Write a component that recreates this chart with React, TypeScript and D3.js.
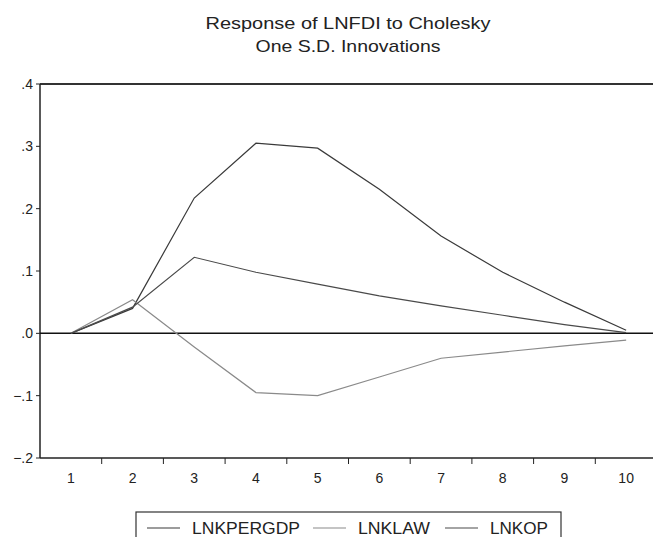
import React from 'react';
import * as d3 from 'd3';

const periods = [1, 2, 3, 4, 5, 6, 7, 8, 9, 10];
const lnkpergdp = [0, 0.04, 0.217, 0.305, 0.297, 0.231, 0.156, 0.098, 0.05, 0.005];
const lnklaw = [0, 0.054, -0.022, -0.095, -0.1, -0.07, -0.04, -0.03, -0.02, -0.011];
const lnkop = [0, 0.042, 0.122, 0.098, 0.079, 0.06, 0.044, 0.029, 0.014, 0.001];
const yTicks = [0.4, 0.3, 0.2, 0.1, 0, -0.1, -0.2];

const seriesNames = ['LNKPERGDP', 'LNKLAW', 'LNKOP'];
const seriesColors = ['#3a3a3a', '#8a8a8a', '#4a4a4a'];

const W = 653;
const H = 537;
const font = '"Liberation Sans Narrow", "Liberation Sans", Arial, sans-serif';

export default function App() {
  const x = d3.scaleBand<number>().domain(periods).range([40, 657]).paddingInner(0).paddingOuter(0);
  const y = d3.scaleLinear().domain([-0.2, 0.4]).range([458, 84]);
  const cx = (p: number) => (x(p) as number) + x.bandwidth() / 2;

  const line = d3
    .line<number>()
    .x((_, i) => cx(periods[i]))
    .y(v => y(v));

  const all = [lnkpergdp, lnklaw, lnkop];
  const fmt = (v: number) => (v === 0 ? '.0' : d3.format('.1f')(v).replace('0.', '.'));

  // legend layout
  const legendX = 136;
  const legendY = 512;
  const itemX = [147, 313, 445];
  const nameW = [108, 72, 58];

  return (
    <svg width={W} height={H} style={{ position: 'absolute', left: 0, top: 0, background: '#fff' }}>
      <g fontFamily={font} fill="#222">
        <text x={348} y={29} textAnchor="middle" fontSize={17} textLength={285} lengthAdjust="spacingAndGlyphs">
          Response of LNFDI to Cholesky
        </text>
        <text x={348} y={52} textAnchor="middle" fontSize={17} textLength={185} lengthAdjust="spacingAndGlyphs">
          One S.D. Innovations
        </text>
      </g>

      {/* frame */}
      <line x1={40} x2={W} y1={y(0.4)} y2={y(0.4)} stroke="#333" strokeWidth={2} />
      <line x1={40} x2={40} y1={y(0.4)} y2={y(-0.2)} stroke="#222" strokeWidth={1.5} />
      <line x1={40} x2={W} y1={y(-0.2)} y2={y(-0.2)} stroke="#222" strokeWidth={1.5} />

      {/* y axis ticks */}
      {yTicks.map(t => (
        <g key={t}>
          <line x1={36} x2={40} y1={y(t)} y2={y(t)} stroke="#222" />
          <text x={33} y={y(t) + 5} textAnchor="end" fontSize={14} fontFamily={font} fill="#222">
            {fmt(t)}
          </text>
        </g>
      ))}

      {/* x axis ticks */}
      {periods.map(p => (
        <g key={p}>
          {p > 1 && <line x1={x(p)} x2={x(p)} y1={458} y2={464} stroke="#222" />}
          <text x={cx(p)} y={483} textAnchor="middle" fontSize={14} fontFamily={font} fill="#222">
            {p}
          </text>
        </g>
      ))}

      {/* zero line */}
      <line x1={40} x2={W} y1={y(0)} y2={y(0)} stroke="#111" strokeWidth={1.5} />

      {all.map((s, i) => (
        <path key={seriesNames[i]} d={line(s) || ''} fill="none" stroke={seriesColors[i]} strokeWidth={1.2} />
      ))}

      {/* legend */}
      <rect x={legendX} y={legendY} width={561 - legendX} height={40} fill="none" stroke="#333" strokeWidth={1.2} />
      {seriesNames.map((n, i) => (
        <g key={n}>
          <line x1={itemX[i]} x2={itemX[i] + 33} y1={legendY + 16} y2={legendY + 16} stroke={seriesColors[i]} strokeWidth={1.2} />
          <text
            x={itemX[i] + 45}
            y={legendY + 22}
            fontSize={16}
            fontFamily={font}
            fill="#222"
            textLength={nameW[i]}
            lengthAdjust="spacingAndGlyphs"
          >
            {n}
          </text>
        </g>
      ))}
    </svg>
  );
}
